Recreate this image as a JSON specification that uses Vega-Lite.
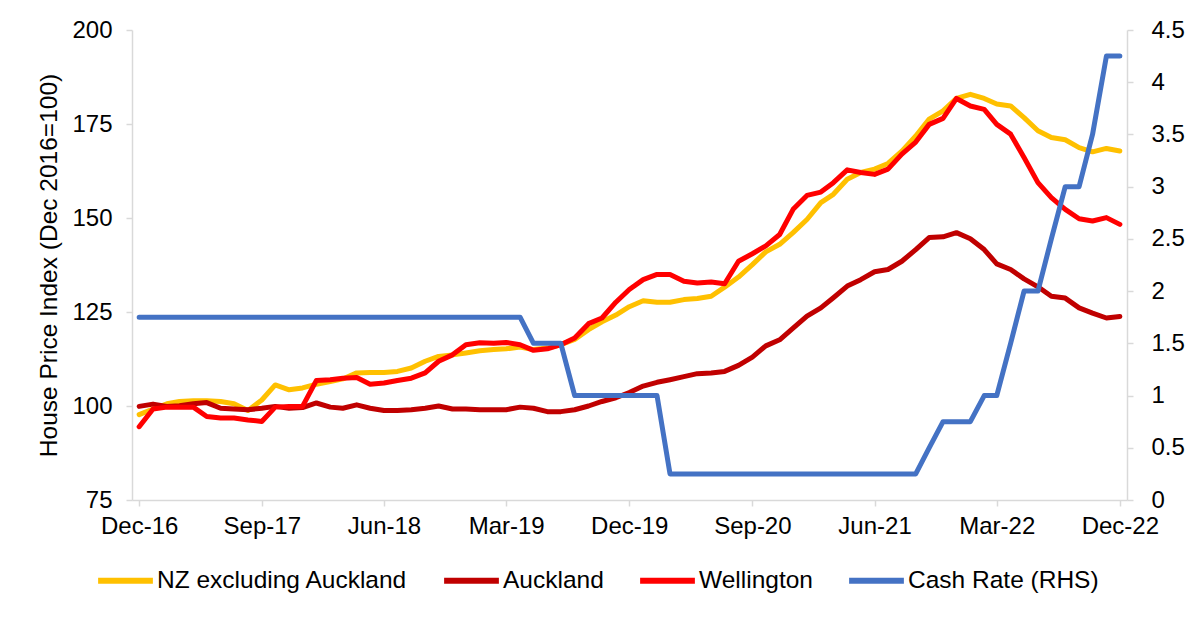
{
  "$schema": "https://vega.github.io/schema/vega-lite/v6.json",
  "width": 995,
  "height": 470,
  "autosize": {"type": "none"},
  "padding": {"left": 132, "top": 30, "right": 73, "bottom": 121},
  "background": "white",
  "config": {
    "font": "Liberation Sans",
    "view": {"stroke": null},
    "axis": {"labelFont": "Liberation Sans", "titleFont": "Liberation Sans", "labelColor": "#000000", "titleColor": "#000000", "domainColor": "#D9D9D9", "tickColor": "#D9D9D9", "grid": false, "labelFontSize": 24, "titleFontSize": 24.5, "titleFontWeight": "normal", "tickSize": 6, "domainWidth": 1.5, "tickWidth": 1.5},
    "legend": {"labelFont": "Liberation Sans", "labelFontSize": 24.5, "labelColor": "#000000"}
  },
  "data": {"values": [
    {"date": "2016-12-01", "NZ excluding Auckland": 97.7, "Auckland": 99.9, "Wellington": 94.5, "Cash Rate (RHS)": 1.75},
    {"date": "2017-01-01", "NZ excluding Auckland": 99.2, "Auckland": 100.5, "Wellington": 99.2, "Cash Rate (RHS)": 1.75},
    {"date": "2017-02-01", "NZ excluding Auckland": 100.6, "Auckland": 99.9, "Wellington": 99.7, "Cash Rate (RHS)": 1.75},
    {"date": "2017-03-01", "NZ excluding Auckland": 101.2, "Auckland": 100.1, "Wellington": 99.7, "Cash Rate (RHS)": 1.75},
    {"date": "2017-04-01", "NZ excluding Auckland": 101.4, "Auckland": 100.6, "Wellington": 99.7, "Cash Rate (RHS)": 1.75},
    {"date": "2017-05-01", "NZ excluding Auckland": 101.4, "Auckland": 100.9, "Wellington": 97.2, "Cash Rate (RHS)": 1.75},
    {"date": "2017-06-01", "NZ excluding Auckland": 101.2, "Auckland": 99.4, "Wellington": 96.8, "Cash Rate (RHS)": 1.75},
    {"date": "2017-07-01", "NZ excluding Auckland": 100.6, "Auckland": 99.2, "Wellington": 96.8, "Cash Rate (RHS)": 1.75},
    {"date": "2017-08-01", "NZ excluding Auckland": 98.8, "Auckland": 99.0, "Wellington": 96.3, "Cash Rate (RHS)": 1.75},
    {"date": "2017-09-01", "NZ excluding Auckland": 101.6, "Auckland": 99.4, "Wellington": 95.9, "Cash Rate (RHS)": 1.75},
    {"date": "2017-10-01", "NZ excluding Auckland": 105.6, "Auckland": 99.9, "Wellington": 99.7, "Cash Rate (RHS)": 1.75},
    {"date": "2017-11-01", "NZ excluding Auckland": 104.3, "Auckland": 99.4, "Wellington": 99.9, "Cash Rate (RHS)": 1.75},
    {"date": "2017-12-01", "NZ excluding Auckland": 104.8, "Auckland": 99.6, "Wellington": 99.9, "Cash Rate (RHS)": 1.75},
    {"date": "2018-01-01", "NZ excluding Auckland": 105.8, "Auckland": 100.8, "Wellington": 106.8, "Cash Rate (RHS)": 1.75},
    {"date": "2018-02-01", "NZ excluding Auckland": 106.5, "Auckland": 99.7, "Wellington": 107.0, "Cash Rate (RHS)": 1.75},
    {"date": "2018-03-01", "NZ excluding Auckland": 107.2, "Auckland": 99.4, "Wellington": 107.4, "Cash Rate (RHS)": 1.75},
    {"date": "2018-04-01", "NZ excluding Auckland": 108.8, "Auckland": 100.3, "Wellington": 107.6, "Cash Rate (RHS)": 1.75},
    {"date": "2018-05-01", "NZ excluding Auckland": 108.9, "Auckland": 99.4, "Wellington": 105.8, "Cash Rate (RHS)": 1.75},
    {"date": "2018-06-01", "NZ excluding Auckland": 108.9, "Auckland": 98.8, "Wellington": 106.1, "Cash Rate (RHS)": 1.75},
    {"date": "2018-07-01", "NZ excluding Auckland": 109.2, "Auckland": 98.8, "Wellington": 106.8, "Cash Rate (RHS)": 1.75},
    {"date": "2018-08-01", "NZ excluding Auckland": 110.1, "Auckland": 99.0, "Wellington": 107.4, "Cash Rate (RHS)": 1.75},
    {"date": "2018-09-01", "NZ excluding Auckland": 111.9, "Auckland": 99.4, "Wellington": 108.8, "Cash Rate (RHS)": 1.75},
    {"date": "2018-10-01", "NZ excluding Auckland": 113.2, "Auckland": 100.0, "Wellington": 111.9, "Cash Rate (RHS)": 1.75},
    {"date": "2018-11-01", "NZ excluding Auckland": 113.6, "Auckland": 99.2, "Wellington": 113.6, "Cash Rate (RHS)": 1.75},
    {"date": "2018-12-01", "NZ excluding Auckland": 114.1, "Auckland": 99.2, "Wellington": 116.3, "Cash Rate (RHS)": 1.75},
    {"date": "2019-01-01", "NZ excluding Auckland": 114.7, "Auckland": 99.0, "Wellington": 116.8, "Cash Rate (RHS)": 1.75},
    {"date": "2019-02-01", "NZ excluding Auckland": 115.0, "Auckland": 99.0, "Wellington": 116.7, "Cash Rate (RHS)": 1.75},
    {"date": "2019-03-01", "NZ excluding Auckland": 115.2, "Auckland": 99.0, "Wellington": 116.9, "Cash Rate (RHS)": 1.75},
    {"date": "2019-04-01", "NZ excluding Auckland": 115.7, "Auckland": 99.7, "Wellington": 116.3, "Cash Rate (RHS)": 1.75},
    {"date": "2019-05-01", "NZ excluding Auckland": 115.0, "Auckland": 99.4, "Wellington": 114.8, "Cash Rate (RHS)": 1.5},
    {"date": "2019-06-01", "NZ excluding Auckland": 115.4, "Auckland": 98.5, "Wellington": 115.2, "Cash Rate (RHS)": 1.5},
    {"date": "2019-07-01", "NZ excluding Auckland": 116.3, "Auckland": 98.5, "Wellington": 116.3, "Cash Rate (RHS)": 1.5},
    {"date": "2019-08-01", "NZ excluding Auckland": 117.7, "Auckland": 99.0, "Wellington": 118.1, "Cash Rate (RHS)": 1.0},
    {"date": "2019-09-01", "NZ excluding Auckland": 120.3, "Auckland": 100.0, "Wellington": 121.9, "Cash Rate (RHS)": 1.0},
    {"date": "2019-10-01", "NZ excluding Auckland": 122.4, "Auckland": 101.2, "Wellington": 123.4, "Cash Rate (RHS)": 1.0},
    {"date": "2019-11-01", "NZ excluding Auckland": 124.2, "Auckland": 102.2, "Wellington": 127.6, "Cash Rate (RHS)": 1.0},
    {"date": "2019-12-01", "NZ excluding Auckland": 126.4, "Auckland": 103.6, "Wellington": 131.0, "Cash Rate (RHS)": 1.0},
    {"date": "2020-01-01", "NZ excluding Auckland": 128.0, "Auckland": 105.3, "Wellington": 133.6, "Cash Rate (RHS)": 1.0},
    {"date": "2020-02-01", "NZ excluding Auckland": 127.6, "Auckland": 106.3, "Wellington": 135.0, "Cash Rate (RHS)": 1.0},
    {"date": "2020-03-01", "NZ excluding Auckland": 127.6, "Auckland": 107.0, "Wellington": 135.0, "Cash Rate (RHS)": 0.25},
    {"date": "2020-04-01", "NZ excluding Auckland": 128.3, "Auckland": 107.8, "Wellington": 133.2, "Cash Rate (RHS)": 0.25},
    {"date": "2020-05-01", "NZ excluding Auckland": 128.6, "Auckland": 108.6, "Wellington": 132.7, "Cash Rate (RHS)": 0.25},
    {"date": "2020-06-01", "NZ excluding Auckland": 129.2, "Auckland": 108.8, "Wellington": 133.0, "Cash Rate (RHS)": 0.25},
    {"date": "2020-07-01", "NZ excluding Auckland": 131.6, "Auckland": 109.2, "Wellington": 132.5, "Cash Rate (RHS)": 0.25},
    {"date": "2020-08-01", "NZ excluding Auckland": 134.3, "Auckland": 110.8, "Wellington": 138.5, "Cash Rate (RHS)": 0.25},
    {"date": "2020-09-01", "NZ excluding Auckland": 137.6, "Auckland": 113.0, "Wellington": 140.5, "Cash Rate (RHS)": 0.25},
    {"date": "2020-10-01", "NZ excluding Auckland": 141.0, "Auckland": 116.0, "Wellington": 142.6, "Cash Rate (RHS)": 0.25},
    {"date": "2020-11-01", "NZ excluding Auckland": 143.0, "Auckland": 117.6, "Wellington": 145.6, "Cash Rate (RHS)": 0.25},
    {"date": "2020-12-01", "NZ excluding Auckland": 146.1, "Auckland": 120.7, "Wellington": 152.3, "Cash Rate (RHS)": 0.25},
    {"date": "2021-01-01", "NZ excluding Auckland": 149.6, "Auckland": 123.9, "Wellington": 156.0, "Cash Rate (RHS)": 0.25},
    {"date": "2021-02-01", "NZ excluding Auckland": 154.1, "Auckland": 126.1, "Wellington": 156.9, "Cash Rate (RHS)": 0.25},
    {"date": "2021-03-01", "NZ excluding Auckland": 156.3, "Auckland": 128.8, "Wellington": 159.4, "Cash Rate (RHS)": 0.25},
    {"date": "2021-04-01", "NZ excluding Auckland": 160.3, "Auckland": 131.9, "Wellington": 162.8, "Cash Rate (RHS)": 0.25},
    {"date": "2021-05-01", "NZ excluding Auckland": 162.1, "Auckland": 133.6, "Wellington": 162.1, "Cash Rate (RHS)": 0.25},
    {"date": "2021-06-01", "NZ excluding Auckland": 163.0, "Auckland": 135.7, "Wellington": 161.6, "Cash Rate (RHS)": 0.25},
    {"date": "2021-07-01", "NZ excluding Auckland": 164.5, "Auckland": 136.3, "Wellington": 163.0, "Cash Rate (RHS)": 0.25},
    {"date": "2021-08-01", "NZ excluding Auckland": 167.8, "Auckland": 138.5, "Wellington": 167.0, "Cash Rate (RHS)": 0.25},
    {"date": "2021-09-01", "NZ excluding Auckland": 171.8, "Auckland": 141.6, "Wellington": 170.2, "Cash Rate (RHS)": 0.25},
    {"date": "2021-10-01", "NZ excluding Auckland": 176.3, "Auckland": 144.8, "Wellington": 174.9, "Cash Rate (RHS)": 0.5},
    {"date": "2021-11-01", "NZ excluding Auckland": 178.5, "Auckland": 145.0, "Wellington": 176.5, "Cash Rate (RHS)": 0.75},
    {"date": "2021-12-01", "NZ excluding Auckland": 181.8, "Auckland": 146.1, "Wellington": 181.8, "Cash Rate (RHS)": 0.75},
    {"date": "2022-01-01", "NZ excluding Auckland": 182.9, "Auckland": 144.5, "Wellington": 179.8, "Cash Rate (RHS)": 0.75},
    {"date": "2022-02-01", "NZ excluding Auckland": 181.8, "Auckland": 141.6, "Wellington": 178.9, "Cash Rate (RHS)": 1.0},
    {"date": "2022-03-01", "NZ excluding Auckland": 180.3, "Auckland": 137.8, "Wellington": 174.9, "Cash Rate (RHS)": 1.0},
    {"date": "2022-04-01", "NZ excluding Auckland": 179.8, "Auckland": 136.3, "Wellington": 172.3, "Cash Rate (RHS)": 1.5},
    {"date": "2022-05-01", "NZ excluding Auckland": 176.7, "Auckland": 133.8, "Wellington": 166.1, "Cash Rate (RHS)": 2.0},
    {"date": "2022-06-01", "NZ excluding Auckland": 173.2, "Auckland": 131.7, "Wellington": 159.4, "Cash Rate (RHS)": 2.0},
    {"date": "2022-07-01", "NZ excluding Auckland": 171.4, "Auckland": 129.2, "Wellington": 155.4, "Cash Rate (RHS)": 2.5},
    {"date": "2022-08-01", "NZ excluding Auckland": 170.8, "Auckland": 128.7, "Wellington": 152.3, "Cash Rate (RHS)": 3.0},
    {"date": "2022-09-01", "NZ excluding Auckland": 168.7, "Auckland": 126.1, "Wellington": 149.8, "Cash Rate (RHS)": 3.0},
    {"date": "2022-10-01", "NZ excluding Auckland": 167.6, "Auckland": 124.7, "Wellington": 149.2, "Cash Rate (RHS)": 3.5},
    {"date": "2022-11-01", "NZ excluding Auckland": 168.5, "Auckland": 123.4, "Wellington": 150.1, "Cash Rate (RHS)": 4.25},
    {"date": "2022-12-01", "NZ excluding Auckland": 167.8, "Auckland": 123.8, "Wellington": 148.3, "Cash Rate (RHS)": 4.25}
  ]},
  "encoding": {
    "x": {
      "field": "date", "type": "temporal",
      "scale": {"type": "utc", "domain": [{"year": 2016, "month": 11, "date": 15, "utc": true}, {"year": 2022, "month": 12, "date": 17, "utc": true}]},
      "axis": {
        "title": null, "format": "%b-%y", "labelPadding": 8,
        "values": [
          {"year": 2016, "month": 12, "date": 1, "utc": true},
          {"year": 2017, "month": 9, "date": 1, "utc": true},
          {"year": 2018, "month": 6, "date": 1, "utc": true},
          {"year": 2019, "month": 3, "date": 1, "utc": true},
          {"year": 2019, "month": 12, "date": 1, "utc": true},
          {"year": 2020, "month": 9, "date": 1, "utc": true},
          {"year": 2021, "month": 6, "date": 1, "utc": true},
          {"year": 2022, "month": 3, "date": 1, "utc": true},
          {"year": 2022, "month": 12, "date": 1, "utc": true}
        ]
      }
    },
    "color": {
      "field": "series", "type": "nominal",
      "scale": {"domain": ["NZ excluding Auckland", "Auckland", "Wellington", "Cash Rate (RHS)"], "range": ["#FFC000", "#C00000", "#FF0000", "#4472C4"]},
      "legend": {"title": null, "orient": "none", "direction": "horizontal", "legendX": -37, "legendY": 520, "symbolType": "stroke", "symbolSize": 3000, "symbolStrokeWidth": 6, "labelOffset": 1, "columnPadding": 24, "labelLimit": 400}
    }
  },
  "layer": [
    {
      "transform": [{"fold": ["NZ excluding Auckland", "Auckland", "Wellington"], "as": ["series", "value"]}],
      "mark": {"type": "line", "strokeWidth": 5, "strokeJoin": "round", "strokeCap": "round"},
      "encoding": {
        "y": {"field": "value", "type": "quantitative", "scale": {"domain": [75, 200], "nice": false, "zero": false},
          "axis": {"title": "House Price Index (Dec 2016=100)", "orient": "left", "values": [75, 100, 125, 150, 175, 200], "labelPadding": 14, "titlePadding": 10}}
      }
    },
    {
      "transform": [{"fold": ["Cash Rate (RHS)"], "as": ["series", "value"]}],
      "mark": {"type": "line", "strokeWidth": 5, "strokeJoin": "round", "strokeCap": "round"},
      "encoding": {
        "y": {"field": "value", "type": "quantitative", "scale": {"domain": [0, 4.5], "nice": false},
          "axis": {"title": null, "orient": "right", "values": [0, 0.5, 1, 1.5, 2, 2.5, 3, 3.5, 4, 4.5], "format": "~g", "labelPadding": 18}}
      }
    }
  ],
  "resolve": {"scale": {"y": "independent"}, "axis": {"y": "independent"}}
}
